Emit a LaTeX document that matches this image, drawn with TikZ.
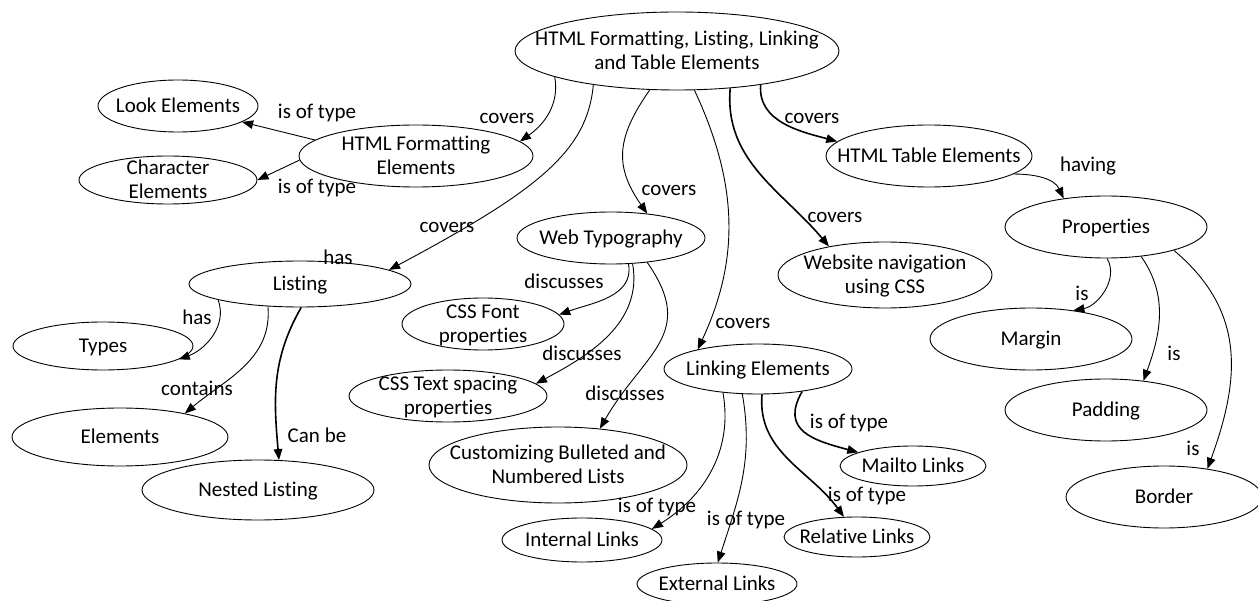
\documentclass[tikz,border=0pt]{standalone}
\usepackage{fontspec}
\setmainfont{Carlito}[Ligatures=NoCommon]
\usetikzlibrary{shapes.geometric,arrows.meta}
\newcommand{\tx}[1]{\raisebox{-7pt}[0pt][0pt]{\makebox[0pt]{\begin{tabular}{@{}c@{}}#1\end{tabular}}}}
\begin{document}
\begin{tikzpicture}[x=1pt,y=1pt,
  font=\fontsize{21}{23.5}\selectfont,
  ell/.style n args={2}{draw, ellipse, line width=0.9pt, inner sep=0pt, minimum width=#1, minimum height=#2},
  lab/.style={inner sep=0pt},
  arr/.style={-{Triangle[length=11pt,width=8.5pt]}, line width=0.9pt},
  arrthick/.style={arr, line width=1.6pt}]
\useasboundingbox (0,0) rectangle (1258,-601);

% nodes
\node[ell={324pt}{78pt}] (root) at (677,-51) {\tx{HTML Formatting, Listing, Linking\\and Table Elements}};
\node[ell={234pt}{62pt}] (fmt) at (416,-156) {\tx{HTML Formatting\\Elements}};
\node[ell={160pt}{52pt}] (look) at (178,-106) {\tx{Look Elements}};
\node[ell={178pt}{48pt}] (char) at (168,-180) {\tx{Character\\Elements}};
\node[ell={206pt}{62pt}] (table) at (929,-156) {\tx{HTML Table Elements}};
\node[ell={202pt}{62pt}] (prop) at (1106,-227) {\tx{Properties}};
\node[ell={188pt}{52pt}] (web) at (611,-238) {\tx{Web Typography}};
\node[ell={214pt}{66pt}] (nav) at (885,-275) {\tx{Website navigation\\using CSS}};
\node[ell={222pt}{46pt}] (list) at (300,-284) {\tx{Listing}};
\node[ell={180pt}{48pt}] (types) at (103,-346) {\tx{Types}};
\node[ell={216pt}{58pt}] (elem) at (120,-437) {\tx{Elements}};
\node[ell={232pt}{60pt}] (nest) at (258,-490) {\tx{Nested Listing}};
\node[ell={162pt}{52pt}] (font) at (483,-324) {\tx{CSS Font\\properties}};
\node[ell={198pt}{52pt}] (spacing) at (448,-396) {\tx{CSS Text spacing\\properties}};
\node[ell={258pt}{76pt}] (cust) at (558,-465) {\tx{Customizing Bulleted and\\Numbered Lists}};
\node[ell={188pt}{50pt}] (link) at (758,-369) {\tx{Linking Elements}};
\node[ell={160pt}{44pt}] (int) at (582,-540) {\tx{Internal Links}};
\node[ell={160pt}{42pt}] (ext) at (717,-584) {\tx{External Links}};
\node[ell={146pt}{40pt}] (rel) at (857,-537) {\tx{Relative Links}};
\node[ell={146pt}{40pt}] (mail) at (913,-466) {\tx{Mailto Links}};
\node[ell={202pt}{62pt}] (margin) at (1031,-339) {\tx{Margin}};
\node[ell={202pt}{62pt}] (pad) at (1106,-410) {\tx{Padding}};
\node[ell={196pt}{62pt}] (border) at (1164,-497) {\tx{Border}};

% connectors
\draw[arr] (root.192) to[out=-80,in=35] (fmt.8);
\draw[arr] (root.202) .. controls +(-6,-66) and +(150,80) .. (list.9);
\draw[arr] (root.235) to[out=-125,in=125,looseness=1.2] (web.34);
\draw[arr] (root.294) to[out=-65,in=65] (link.162);
\draw[arrthick] (root.-35) to[out=-95,in=130] (nav.153);
\draw[arrthick] (root.-22) to[out=-95,in=165] (table.171);
\draw[arr] (fmt.171) -- (look.-14);
\draw[arr] (fmt.182) -- (char.0);
\draw[arr] (table.-12) to[out=0,in=115] (prop.146);
\draw[arr] (prop.-88) to[out=-60,in=10] (margin.34);
\draw[arr] (prop.-40) to[out=-55,in=70] (pad.38);
\draw[arr] (prop.-19) to[out=-40,in=70,looseness=1.1] (border.33);
\draw[arr] (list.191) to[out=-70,in=20] (types.-10);
\draw[arr] (list.215) to[out=-85,in=40] (elem.20);
\draw[arrthick] (list.-87) to[out=-120,in=95] (nest.55);
\draw[arr] (web.-56) to[out=-80,in=20] (font.7);
\draw[arr] (web.-50) to[out=-80,in=28] (spacing.8);
\draw[arr] (web.-34) to[out=-55,in=60,looseness=1.3] (cust.41);
\draw[arr] (link.214) to[out=-80,in=32] (int.9);
\draw[arr] (link.238) to[out=-80,in=72] (ext.88);
\draw[arrthick] (link.-81) to[out=-95,in=126] (rel.123);
\draw[arrthick] (link.-27) to[out=-120,in=165,looseness=1.4] (mail.166);

% labels
\node[lab] (l1) at (317,-113) {is of type};
\node[lab] (l2) at (317,-188) {is of type};
\node[lab] (l3) at (507,-118) {covers};
\node[lab] (l4) at (669,-190) {covers};
\node[lab] (l5) at (812,-118) {covers};
\node[lab] (l6) at (835,-217) {covers};
\node[lab] (l7) at (743,-323) {covers};
\node[lab] (l8) at (447,-227) {covers};
\node[lab] (l9) at (338,-257) {has};
\node[lab] (l10) at (1088,-166) {having};
\node[lab] (l11) at (1082,-293) {is};
\node[lab] (l12) at (1174,-353) {is};
\node[lab] (l13) at (1193,-448) {is};
\node[lab] (l14) at (197,-317) {has};
\node[lab] (l15) at (197,-388) {contains};
\node[lab] (l16) at (317,-435) {Can be};
\node[lab] (l17) at (564,-281) {discusses};
\node[lab] (l18) at (582,-353) {discusses};
\node[lab] (l19) at (625,-393) {discusses};
\node[lab] (l20) at (657,-507) {is of type};
\node[lab] (l21) at (746,-520) {is of type};
\node[lab] (l22) at (867,-496) {is of type};
\node[lab] (l23) at (849,-423) {is of type};
\end{tikzpicture}
\end{document}
